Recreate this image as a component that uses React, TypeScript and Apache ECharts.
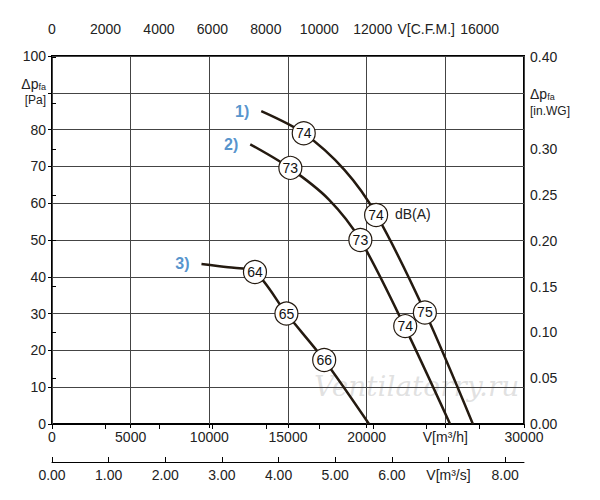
import * as echarts from 'echarts';
import { useEffect, useRef } from 'react';

// flow in m³/h, pressure in Pa
const curve1 = [[13300, 85], [16000, 79], [18600, 69], [20600, 57], [23700, 30.5], [26750, 0]];
const curve2 = [[12600, 76], [15100, 69.6], [17600, 61], [19600, 50], [22400, 26.6], [25300, 0]];
const curve3 = [[9500, 43.5], [11200, 42.6], [12900, 41.3], [14900, 30], [17300, 17.4], [20150, 0]];
// dB(A) markers: [V, p, dB]
const markers = [
  [16000, 79, 74], [20600, 56.8, 74], [23700, 30.3, 75],
  [15150, 69.6, 73], [19600, 50, 73], [22450, 26.6, 74],
  [12900, 41.3, 64], [14900, 30, 65], [17300, 17.4, 66],
];
const curveNames = [['1)', 13300, 85], ['2)', 12600, 76], ['3)', 9500, 43.5]];

const M3H_MAX = 30000;
const PA_MAX = 100;
const CFM_PER_M3H = 1 / 1.699;
const INWG_PER_PA = 1 / 249.09;

const ink = '#241a10';
const font = 'Liberation Sans, Arial, sans-serif';

export default function App() {
  const ref = useRef<HTMLDivElement | null>(null);

  useEffect(() => {
    document.body.style.margin = '0';
    if (!ref.current) return;
    const chart = echarts.init(ref.current, undefined, { renderer: 'svg' });
    const lbl = { color: '#222', fontSize: 14, fontFamily: font };
    const rich = {
      d: { fontSize: 14, color: '#222', fontFamily: font },
      s: { fontSize: 9, color: '#222', fontFamily: font, verticalAlign: 'bottom', padding: [6, 0, 0, 0] },
      u: { fontSize: 12, color: '#222', fontFamily: font, lineHeight: 18 },
    };
    const line = (data: number[][]) => ({
      type: 'line', data, smooth: 0.3, showSymbol: false, xAxisIndex: 0, yAxisIndex: 0,
      lineStyle: { color: ink, width: 2.5 }, z: 2,
    });
    chart.setOption({
      animation: false,
      textStyle: { fontFamily: font },
      grid: { left: 52, right: 76, top: 56, bottom: 76, show: true, borderColor: '#000', borderWidth: 2 },
      xAxis: [
        {
          type: 'value', min: 0, max: M3H_MAX, interval: 5000, position: 'bottom',
          axisLine: { show: false }, axisTick: { length: 4, lineStyle: { color: '#000' } },
          splitLine: { lineStyle: { color: '#444', width: 1 } },
          axisLabel: { ...lbl, margin: 6, formatter: (v: number) => (v === 25000 ? 'V[m³/h]' : String(v)) },
        },
        {
          type: 'value', min: 0, max: M3H_MAX * CFM_PER_M3H, interval: 2000, position: 'top', offset: 16,
          axisLine: { show: true, lineStyle: { color: '#000' } }, axisTick: { inside: true, length: 5, lineStyle: { color: '#000' } },
          splitLine: { show: false }, showMaxLabel: false,
          axisLabel: { ...lbl, margin: 4, formatter: (v: number) => (v === 14000 ? 'V[C.F.M.]' : String(v)) },
        },
        {
          type: 'value', min: 0, max: M3H_MAX / 3600, interval: 1, position: 'bottom', offset: 38,
          axisLine: { show: true, lineStyle: { color: '#000' } }, axisTick: { inside: true, length: 5, lineStyle: { color: '#000' } },
          splitLine: { show: false }, showMaxLabel: false,
          axisLabel: { ...lbl, margin: 6, formatter: (v: number) => (v === 7 ? 'V[m³/s]' : v.toFixed(2)) },
        },
      ],
      yAxis: [
        {
          type: 'value', min: 0, max: PA_MAX, interval: 10, position: 'left',
          axisLine: { show: false }, axisTick: { length: 4, lineStyle: { color: '#000' } },
          splitLine: { lineStyle: { color: '#444', width: 1 } },
          axisLabel: {
            ...lbl, margin: 6, rich,
            formatter: (v: number) => (v === 90 ? '{d|Δp}{s|fa}\n{u|[Pa]}' : String(v)),
          },
        },
        {
          type: 'value', min: 0, max: PA_MAX * INWG_PER_PA, interval: 0.05, position: 'right',
          axisLine: { show: false }, axisTick: { length: 4, lineStyle: { color: '#000' } },
          splitLine: { show: false }, showMaxLabel: true,
          axisLabel: {
            ...lbl, margin: 6, rich,
            formatter: (v: number) => (Math.abs(v - 0.35) < 1e-6 ? '{d|Δp}{s|fa}\n{u|[in.WG]}' : v > 0.399 ? '0.40' : v.toFixed(2)),
          },
        },
      ],
      series: [
        line(curve1), line(curve2), line(curve3),
        {
          type: 'scatter', data: markers, symbol: 'circle', symbolSize: 23, z: 5,
          itemStyle: { color: '#fff', borderColor: ink, borderWidth: 1.2, opacity: 1 },
          label: { show: true, position: 'inside', color: '#111', fontSize: 14, fontFamily: font, formatter: (p: any) => String(p.data[2]) },
        },
        {
          type: 'scatter', data: curveNames.map((c) => [c[1], c[2], c[0]]), symbolSize: 0, z: 6,
          label: { show: true, position: 'left', distance: 12, color: '#2a78c0', fontSize: 16, fontWeight: 'bold', fontFamily: font, formatter: (p: any) => p.data[2] },
        },
      ],
      graphic: [
        { type: 'text', left: 395, top: 207, style: { text: 'dB(A)', fill: '#222', fontSize: 14, fontFamily: font } },
        { type: 'text', left: 314, top: 372, style: { text: 'Ventilatorry.ru', fill: 'rgba(170,170,170,0.35)', fontSize: 28, fontStyle: 'italic', fontFamily: 'DejaVu Serif, serif' } },
      ],
    });
    return () => chart.dispose();
  }, []);

  return <div ref={ref} style={{ width: 600, height: 500 }} />;
}
